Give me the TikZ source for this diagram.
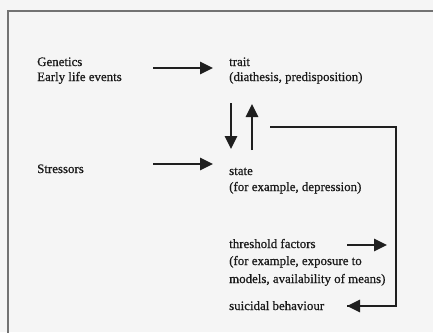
\documentclass[tikz,border=0pt]{standalone}
\usepackage{fontspec}
\setmainfont{Liberation Serif}[FakeBold=0.6]
\usetikzlibrary{arrows.meta}
\tikzset{
  lbl/.style={anchor=base west, inner sep=0pt, text=black!90, font=\fontsize{12.9}{16}\selectfont},
  fat/.style={line width=2.6pt, draw=black!88, -{Triangle[length=13pt,width=12pt]}},
  fb/.style={line width=2.4pt, draw=black!88, line join=miter},
}
\begin{document}
\begin{tikzpicture}[x=1pt,y=-1pt]
\useasboundingbox (0,0) rectangle (433,332);
\fill[black!4] (0,0) rectangle (433,332);
\begin{scope}
\clip (0,0) rectangle (433,332);
\draw[black!55, line width=1.3pt] (8,340) -- (8,11) -- (445,11);
\end{scope}
% texts
\node[lbl] (gen) at (37,66) {Genetics};
\node[lbl] (early) at (37,81) {Early life events};
\node[lbl] (trait) at (229,66) {trait};
\node[lbl] (diat) at (229,81) {(diathesis, predisposition)};
\node[lbl] (stress) at (37,173) {Stressors};
\node[lbl] (state) at (229,175) {state};
\node[lbl] (depr) at (229,191) {(for example, depression)};
\node[lbl] (thr) at (229,248) {threshold factors};
\node[lbl] (expo) at (229,265) {(for example, exposure to};
\node[lbl] (models) at (229,283) {models, availability of means)};
\node[lbl] (suic) at (229,310) {suicidal behaviour};
% arrow coordinates
\coordinate (a1s) at (153,68);
\coordinate (a1e) at (213,68);
\coordinate (a2s) at (153,164);
\coordinate (a2e) at (213,164);
\coordinate (ds) at (231,103);
\coordinate (de) at (231,149);
\coordinate (us) at (252,150);
\coordinate (ue) at (252,104);
\coordinate (a3s) at (347,245);
\coordinate (a3e) at (387,245);
\coordinate (fs) at (270,127);
\coordinate (fc1) at (396,127);
\coordinate (fc2) at (396,306);
\coordinate (fe) at (347,306);
\draw[fat] (a1s) -- (a1e);
\draw[fat] (a2s) -- (a2e);
\draw[fat] (ds) -- (de);
\draw[fat] (us) -- (ue);
\draw[fat] (a3s) -- (a3e);
\draw[fb] (fs) -- (fc1) -- (fc2) -- (fe);
\draw[fat] (370,306) -- (fe);
\end{tikzpicture}
\end{document}
